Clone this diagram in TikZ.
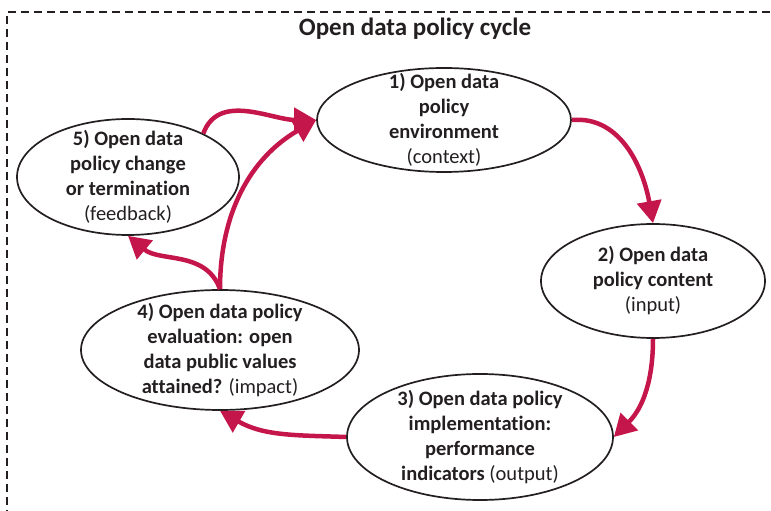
\documentclass[tikz,border=0pt]{standalone}
\usepackage{fontspec}
\setmainfont[Ligatures=NoCommon]{Carlito}
\usetikzlibrary{arrows.meta, shapes.geometric}
\definecolor{cycred}{RGB}{197,22,76}
\definecolor{ink}{RGB}{35,31,32}
\newcommand{\phasenote}[1]{{\mdseries #1}}

\begin{document}
\begin{tikzpicture}[x=1pt, y=1pt,
    phase/.style={draw=ink, line width=1.7pt, ellipse, inner sep=0pt},
    phasetext/.style={align=center, text=ink, inner sep=0pt, font=\fontsize{20.5}{25}\selectfont\bfseries},
    cyc/.style={-{Triangle[length=22pt, width=24pt]}, line width=4.5pt, cycred}]
    \useasboundingbox (0,0) rectangle (771,511);
    \clip (0,0) rectangle (771,511);

    % Frame
    \draw[ink, line width=1.6pt, dash pattern=on 8pt off 5pt] (7,-20) -- (7,499) -- (800,499);

    % Title
    \node[text=ink, font=\fontsize{25}{30}\selectfont\bfseries] (title) at (415,482) {Open data policy cycle};

    % Phases
    \node[phase, minimum width=254pt, minimum height=104pt,
        label={[phasetext]center:{1) Open data\\policy\\environment\\\phasenote{(context)}}}] (env) at (444,391) {};
    \node[phase, minimum width=224pt, minimum height=114pt,
        label={[phasetext]center:{2) Open data\\policy content\\\phasenote{(input)}}}] (content) at (653,230) {};
    \node[phase, minimum width=266pt, minimum height=126pt,
        label={[phasetext]center:{3) Open data policy\\implementation:\\performance\\indicators \phasenote{(output)}}}] (impl) at (480,74) {};
    \node[phase, minimum width=278pt, minimum height=120pt,
        label={[phasetext]center:{4) Open data policy\\evaluation: open\\data public values\\attained? \phasenote{(impact)}}}] (eval) at (220,161) {};
    \node[phase, minimum width=222pt, minimum height=116pt,
        label={[phasetext]center:{5) Open data\\policy change\\or termination\\\phasenote{(feedback)}}}] (change) at (128,334) {};

    % Cycle arrows
    \draw[cyc] (env.east) to[out=5, in=100] (content.north);
    \draw[cyc] (content.south) to[out=-90, in=45] (impl.east);
    \draw[cyc] (impl.west) to[out=178, in=-30] (eval.south);
    \draw[cyc] (eval.north) to[out=90, in=-150] (env.west);
    \draw[cyc] (eval.north) to[out=110, in=-40] (change.south);
    \draw[cyc] (change.30) to[out=70, in=180] (env.west);
\end{tikzpicture}
\end{document}
